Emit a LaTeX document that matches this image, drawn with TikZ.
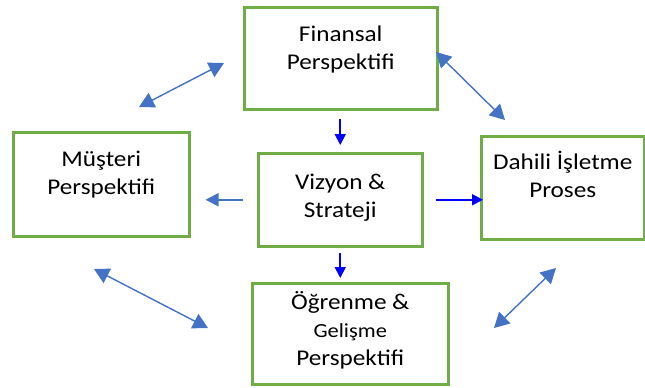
\documentclass[tikz,border=0pt]{standalone}
\usepackage{fontspec}
\setmainfont{Carlito}[FakeStretch=1.12]
\usetikzlibrary{positioning,arrows.meta}
\definecolor{boxgreen}{HTML}{70AD47}
\definecolor{linkblue}{HTML}{4472C4}
\definecolor{feedblue}{HTML}{0000FF}

\begin{document}
\begin{tikzpicture}[
  x=1pt, y=-1pt, inner sep=0pt,
  box/.style={
    draw=boxgreen, line width=2.5pt, fill=white, shape=rectangle, align=center,
    anchor=north west, font=\fontsize{22.5}{28}\selectfont
  },
  link/.style={draw=linkblue, line width=1.4pt,
    {Triangle[length=15pt,width=16pt]}-{Triangle[length=15pt,width=16pt]}},
  feed/.style={draw=feedblue, line width=1.8pt, -{Triangle[length=11pt,width=11pt]}},
  side/.style={draw=linkblue, line width=1.8pt, -{Triangle[length=13pt,width=13pt]}}
]
  \useasboundingbox (0,0) rectangle (645,388);

  \node[box, minimum width=193pt, text height=62pt, text depth=40pt] (box-fin) at (243,6)
    {Finansal \\ Perspektifi};
  \node[box, minimum width=176pt, text height=62pt, text depth=42pt] (box-mus) at (12,131)
    {Müşteri \\ Perspektifi};
  \node[box, minimum width=164pt, text height=64pt, text depth=29pt] (box-viz) at (257,152)
    {Vizyon \& \\ Strateji};
  \node[box, minimum width=163pt, text height=61pt, text depth=42pt] (box-dah) at (480,135)
    {Dahili İşletme \\ Proses};
  \node[box, minimum width=196pt, text height=82pt, text depth=19pt] (box-ogr) at (251,282)
    {Öğrenme \& \\ {\fontsize{20}{28}\selectfont Gelişme} \\ Perspektifi};

  % vision to the four perspectives
  \draw[feed, shorten <=8pt, shorten >=7pt] (box-viz.north |- box-fin.south) -- (box-viz.north);
  \draw[side, shorten <=14pt, shorten >=15pt] (box-viz.west) -- (box-viz.west -| box-mus.east);
  \draw[feed, shorten <=12pt, shorten >=-3pt] (box-viz.east) -- (box-viz.east -| box-dah.west);
  \draw[feed, shorten <=5pt, shorten >=4pt] (box-viz.south) -- (box-viz.south |- box-ogr.north);

  % links round the outside
  \coordinate (end-fm-1) at (139,107);
  \coordinate (end-fm-2) at (224,63);
  \coordinate (end-fd-1) at (436,52);
  \coordinate (end-fd-2) at (505,120);
  \coordinate (end-mo-1) at (94,269);
  \coordinate (end-mo-2) at (208,328);
  \coordinate (end-do-1) at (556,268);
  \coordinate (end-do-2) at (494,328);
  \draw[link] (end-fm-1) -- (end-fm-2);
  \draw[link] (end-fd-1) -- (end-fd-2);
  \draw[link] (end-mo-1) -- (end-mo-2);
  \draw[link] (end-do-1) -- (end-do-2);
\end{tikzpicture}
\end{document}
